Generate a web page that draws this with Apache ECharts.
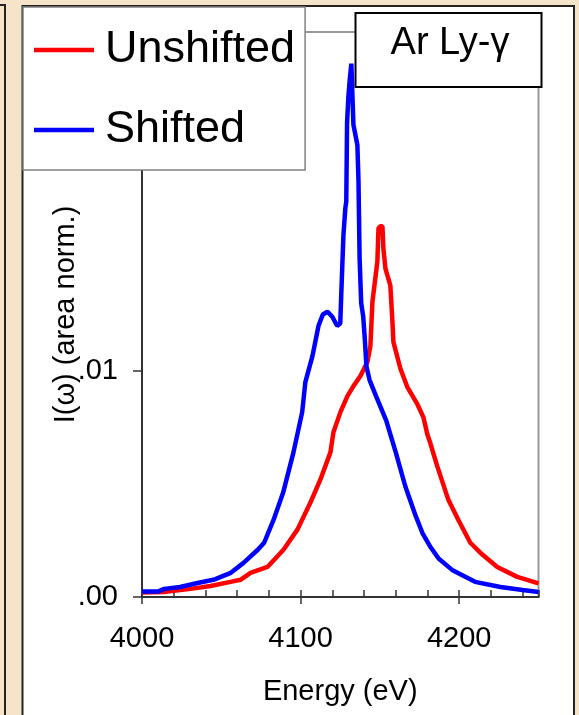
<!DOCTYPE html>
<html>
<head>
<meta charset="utf-8">
<script src="https://cdn.jsdelivr.net/npm/echarts@6/dist/echarts.min.js"></script>
<style>
html,body{margin:0;padding:0;background:#f5e4c8;}
#chart{width:579px;height:715px;}
</style>
</head>
<body>
<div id="chart"></div>
<script>
// Data
const energyUnshifted = [4000, 4013.6, 4030.6, 4043.2, 4055.8, 4062.1, 4068.4, 4079.1, 4089.2, 4098.0, 4106.2, 4112.5, 4118.8, 4120.7, 4125.1, 4129.5, 4133.3, 4137.7, 4142.1, 4144.0, 4145.3, 4148.4, 4149.1, 4150.3, 4151.6, 4152.2, 4153.5, 4156.6, 4157.9, 4158.5, 4163.0, 4167.3, 4173.6, 4177.4, 4179.9, 4181.8, 4186.2, 4193.1, 4199.4, 4207.0, 4213.3, 4224.0, 4236.6, 4250];
const unshifted = [0.0002, 0.00022, 0.00036, 0.00049, 0.00067, 0.00076, 0.00107, 0.00133, 0.00209, 0.00298, 0.00418, 0.0052, 0.0064, 0.00729, 0.00818, 0.00889, 0.00933, 0.00978, 0.0104, 0.0111, 0.01307, 0.01484, 0.01631, 0.0164, 0.0164, 0.01542, 0.01453, 0.01378, 0.01218, 0.01129, 0.01009, 0.00929, 0.00853, 0.00796, 0.0072, 0.0068, 0.00578, 0.00431, 0.00342, 0.0024, 0.00196, 0.00133, 0.00089, 0.0006];

const energyShifted = [4000, 4010, 4014, 4024, 4035, 4045, 4056, 4064, 4073, 4077, 4083, 4089, 4095.5, 4101, 4103, 4107.5, 4111.3, 4114, 4117, 4120, 4123, 4125, 4125.7, 4127, 4128.2, 4128.8, 4129.3, 4130.1, 4131, 4132, 4133.3, 4135.8, 4136.5, 4137.2, 4138.2, 4139.5, 4140.5, 4141.5, 4143.5, 4147.5, 4154, 4160, 4166, 4172.5, 4177, 4182, 4187, 4195.5, 4210, 4226, 4240, 4250];
const shifted = [0.00024, 0.00024, 0.00036, 0.00044, 0.00062, 0.00076, 0.00107, 0.00151, 0.00209, 0.0024, 0.00342, 0.00462, 0.0064, 0.00818, 0.00951, 0.01067, 0.012, 0.0125, 0.01262, 0.0124, 0.012, 0.0121, 0.01351, 0.016, 0.0172, 0.0175, 0.021, 0.0221, 0.0229, 0.0236, 0.0209, 0.02, 0.0184, 0.015, 0.013, 0.0124, 0.0114, 0.0102, 0.0096, 0.0089, 0.0078, 0.0064, 0.0049, 0.0036, 0.0028, 0.0022, 0.0017, 0.0012, 0.00067, 0.00044, 0.00031, 0.00022];

const seriesNames = ['Unshifted', 'Shifted'];
const xTickValues = [4000, 4100, 4200];
const yTickValues = [0, 0.01, 0.02];
const xTitle = 'Energy (eV)';
const yTitle = 'I(ω) (area norm.)';
const boxLabel = 'Ar Ly-γ';

const FONT = '"Liberation Sans", Arial, sans-serif';
const chart = echarts.init(document.getElementById('chart'), null, {renderer: 'canvas'});

const zip = (xs, ys) => xs.map((x, i) => [x, ys[i]]);

chart.setOption({
  animation: false,
  backgroundColor: 'transparent',
  textStyle: {fontFamily: FONT},
  grid: {
    left: 142, right: 40.5, top: 32, bottom: 118,
    show: true, borderColor: '#999', borderWidth: 2, backgroundColor: 'transparent'
  },
  legend: {
    orient: 'vertical',
    left: 23, top: 7,
    padding: [18, 10, 15, 11],
    itemGap: 30,
    itemWidth: 60, itemHeight: 4.5,
    icon: 'rect',
    backgroundColor: '#fff',
    borderColor: '#808080', borderWidth: 1.5,
    borderRadius: 0,
    textStyle: {fontSize: 45, color: '#000', fontFamily: FONT, lineHeight: 50, padding: [0, 0, 0, 6]},
    data: seriesNames,
    z: 10
  },
  xAxis: [{
    type: 'value', min: 4000, max: 4250, interval: 100, position: 'bottom',
    axisLine: {show: true, onZero: false, lineStyle: {color: '#333', width: 2}},
    axisTick: {show: true, inside: false, length: 7, customValues: xTickValues, lineStyle: {color: '#333', width: 1.5}},
    axisLabel: {fontSize: 29, color: '#000', margin: 27, fontFamily: FONT, customValues: xTickValues,
      formatter: v => String(Math.round(v))},
    splitLine: {show: false},
    name: xTitle, nameLocation: 'middle', nameGap: 80,
    nameTextStyle: {fontSize: 29, color: '#000', fontFamily: FONT}
  }, {
    type: 'value', min: 4000, max: 4250, interval: 20, position: 'bottom',
    axisLine: {show: false, onZero: false},
    axisTick: {show: true, inside: true, length: 7, lineStyle: {color: '#333', width: 1.5}},
    axisLabel: {show: false},
    splitLine: {show: false}
  }],
  yAxis: {
    type: 'value', min: 0, max: 0.025, interval: 0.01,
    axisLine: {show: true, onZero: false, lineStyle: {color: '#333', width: 2}},
    axisTick: {show: true, inside: false, length: 9, customValues: yTickValues, lineStyle: {color: '#333', width: 1.5}},
    axisLabel: {fontSize: 29, color: '#000', margin: 24, fontFamily: FONT, customValues: yTickValues,
      formatter: v => v.toFixed(2).replace(/^0/, '')},
    splitLine: {show: false},
    name: yTitle, nameLocation: 'middle', nameGap: 62, nameRotate: 90, nameMoveOverlap: false,
    nameTextStyle: {fontSize: 29, color: '#000', fontFamily: FONT}
  },
  series: [{
    name: seriesNames[0], type: 'line', symbol: 'none', smooth: false,
    data: zip(energyUnshifted, unshifted),
    lineStyle: {color: '#ff0000', width: 4.5}, itemStyle: {color: '#ff0000'}, z: 2
  }, {
    name: seriesNames[1], type: 'line', symbol: 'none', smooth: false,
    data: zip(energyShifted, shifted),
    lineStyle: {color: '#0000ff', width: 4.5}, itemStyle: {color: '#0000ff'}, z: 3
  }],
  graphic: [
    {type: 'rect', z: -10, silent: true,
      shape: {x: 22.5, y: 6, width: 551.5, height: 800},
      style: {fill: '#fff', stroke: '#222', lineWidth: 2}},
    {type: 'polyline', z: -10, silent: true,
      shape: {points: [[-5, 5], [5, 5], [5, 800]]},
      style: {fill: null, stroke: '#222', lineWidth: 2}},
    {type: 'rect', z: 100, silent: true,
      shape: {x: 355.5, y: 13, width: 186, height: 74},
      style: {fill: '#fff', stroke: '#000', lineWidth: 2}},
    {type: 'text', z: 101, silent: true,
      style: {x: 450, y: 44, text: boxLabel, fontSize: 38, fontFamily: FONT, fill: '#000',
        textAlign: 'center', textVerticalAlign: 'middle'}}
  ]
});
</script>
</body>
</html>
